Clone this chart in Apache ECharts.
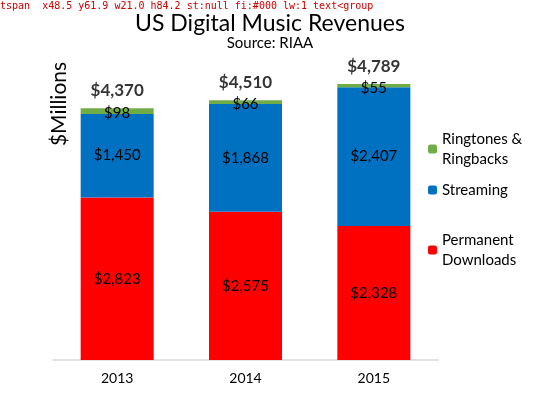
<!DOCTYPE html>
<html>
<head>
<meta charset="utf-8">
<script src="https://cdn.jsdelivr.net/npm/echarts@6/dist/echarts.min.js"></script>
<style>
html,body{margin:0;padding:0;background:#fff;}
#chart{width:549px;height:393px;}
#dbg{position:absolute;left:0;top:0;width:549px;font:10px monospace;color:#c00;background:rgba(255,255,255,0.85);white-space:pre-wrap;}
</style>
</head>
<body>
<div id="chart"></div>
<div id="dbg"></div>
<script>
const years = ['2013', '2014', '2015'];
const downloads = [2823, 2575, 2328];
const streaming = [1450, 1868, 2407];
const ringtones = [98, 66, 55];
const totals = [4370, 4510, 4789];
const seriesNames = ['Ringtones &\nRingbacks', 'Streaming', 'Permanent\nDownloads'];

const FONT = 'Lato';
const fmt = v => '$' + v.toLocaleString('en-US');

const chart = echarts.init(document.getElementById('chart'));
const innerLabel = {
  show: true, position: 'inside', color: '#000', fontFamily: FONT, fontSize: 15,
  formatter: p => fmt(p.value)
};
const legendText = { fontFamily: FONT, fontSize: 15, color: '#000', lineHeight: 20 };
chart.setOption({
  animation: false,
  title: [
    { text: 'US Digital Music Revenues', left: 265, top: 7, textAlign: 'center',
      textStyle: { fontFamily: FONT, fontSize: 23, fontWeight: 'normal', color: '#000' } },
    { text: 'Source: RIAA', left: 265, top: 31, textAlign: 'center',
      textStyle: { fontFamily: FONT, fontSize: 15, fontWeight: 'normal', color: '#000' } }
  ],
  graphic: [{
    type: 'text', x: 59, y: 104, rotation: Math.PI / 2,
    style: { text: '$Millions', fontFamily: FONT, fontSize: 21, fill: '#000',
      align: 'center', verticalAlign: 'middle' }
  }],
  legend: [
    { data: [seriesNames[0]], left: 423, top: 124, orient: 'vertical', itemWidth: 9, itemHeight: 9,
      textStyle: legendText, selectedMode: false },
    { data: [seriesNames[1]], left: 423, top: 175, orient: 'vertical', itemWidth: 9, itemHeight: 9,
      textStyle: legendText, selectedMode: false },
    { data: [seriesNames[2]], left: 423, top: 225, orient: 'vertical', itemWidth: 9, itemHeight: 9,
      textStyle: legendText, selectedMode: false }
  ],
  grid: { left: 53, right: 111, top: 72, bottom: 33 },
  xAxis: {
    type: 'category', data: years,
    axisLine: { show: true, onZero: false, lineStyle: { color: '#d9d9d9', width: 1.5 } },
    axisTick: { show: false },
    axisLabel: { color: '#000', fontFamily: FONT, fontSize: 14, margin: 11 }
  },
  yAxis: { type: 'value', min: 0, max: 5000, interval: 1000, show: false },
  series: [
    { name: seriesNames[2], type: 'bar', stack: 'a', data: downloads, barWidth: 73,
      itemStyle: { color: '#ff0000' }, label: innerLabel },
    { name: seriesNames[1], type: 'bar', stack: 'a', data: streaming,
      itemStyle: { color: '#0070c0' }, label: innerLabel },
    { name: seriesNames[0], type: 'bar', stack: 'a', data: ringtones,
      itemStyle: { color: '#70ad47' }, label: Object.assign({}, innerLabel, { offset: [0, 2] }) },
    { name: 'Total', type: 'scatter', data: totals, symbol: 'circle', symbolSize: 2,
      itemStyle: { color: 'rgba(255,255,255,0)' }, silent: true, z: 10,
      label: { show: true, position: 'top', distance: 8, color: '#000', fontFamily: FONT,
        fontSize: 17, fontWeight: 'bold', formatter: p => fmt(p.value) } }
  ]
});

// diagnostic: list drawn elements near the left grid edge
const out = [];
const list = chart.getZr().storage.getDisplayList(true);
list.forEach(el => {
  let r;
  try { r = el.getBoundingRect().clone(); const m = el.getComputedTransform(); if (m) r.applyTransform(m); } catch (e) { return; }
  if (r.x < 70 && r.x + r.width > 40 && r.height > 60) {
    let p = el.parent, chain = [];
    while (p && chain.length < 4) { chain.push(p.name || p.type || '?'); p = p.parent; }
    out.push([el.type, el.name || '', 'x' + r.x.toFixed(1), 'y' + r.y.toFixed(1), 'w' + r.width.toFixed(1), 'h' + r.height.toFixed(1),
      'st:' + (el.style && el.style.stroke), 'fi:' + (el.style && el.style.fill), 'lw:' + (el.style && el.style.lineWidth), chain.join('<')].join(' '));
  }
});
document.getElementById('dbg').textContent = out.length ? out.join('\n') : 'none found';
</script>
</body>
</html>
